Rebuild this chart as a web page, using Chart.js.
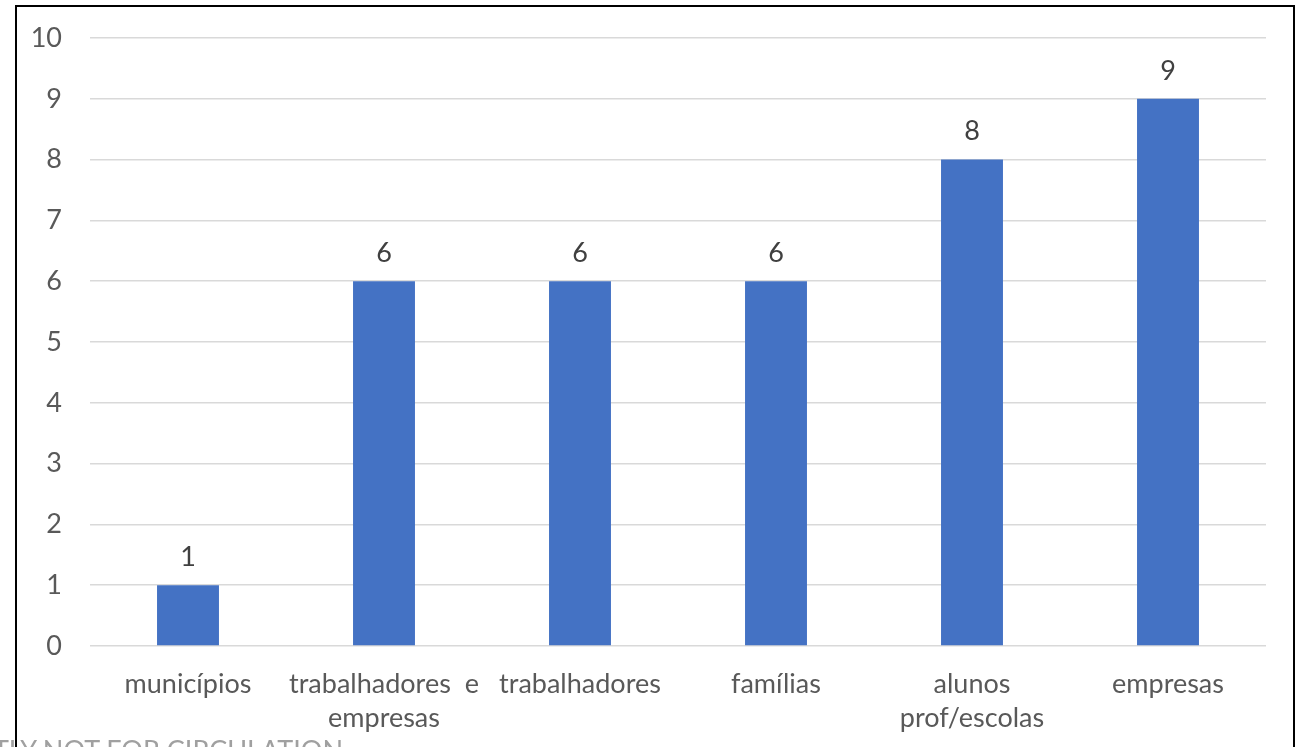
<!DOCTYPE html>
<html>
<head>
<meta charset="utf-8">
<script src="https://cdn.jsdelivr.net/npm/chart.js@4"></script>
<style>
  html, body { margin: 0; padding: 0; background: #fff; overflow: hidden; }
  #wrap { position: relative; width: 1302px; height: 747px; overflow: hidden; }
  #frame { position: absolute; left: 15px; top: 5px; width: 1280px; height: 800px; border: 2px solid #000; box-sizing: border-box; }
  #c { position: absolute; left: 0; top: 0; }
  #foot { position: absolute; right: calc(1302px - 343px); top: 736px; white-space: nowrap; font-family: Lato, sans-serif; font-size: 27px; line-height: 28px; color: #a0a0a0; }
</style>
</head>
<body>
<div id="wrap">
  <div id="frame"></div>
  <canvas id="c" width="1302" height="747"></canvas>
  <div id="foot">STRICTLY NOT FOR CIRCULATION</div>
</div>
<script>
const categories = ["municípios", ["trabalhadores  e", "empresas"], "trabalhadores", "famílias", ["alunos", "prof/escolas"], "empresas"];
const values = [1, 6, 6, 6, 8, 9];
const yTicks = [0, 1, 2, 3, 4, 5, 6, 7, 8, 9, 10];

const FONT = "Lato, 'Open Sans', sans-serif";

const dataLabels = {
  id: 'dataLabels',
  afterDatasetsDraw(chart) {
    const ctx = chart.ctx;
    const meta = chart.getDatasetMeta(0);
    ctx.save();
    ctx.font = "27px " + FONT;
    ctx.fillStyle = "#404040";
    ctx.textAlign = "center";
    ctx.textBaseline = "middle";
    meta.data.forEach((el, i) => {
      ctx.fillText(String(values[i]), el.x, el.y - 28);
    });
    ctx.restore();
  }
};

new Chart(document.getElementById('c'), {
  type: 'bar',
  data: {
    labels: categories,
    datasets: [{
      data: values,
      backgroundColor: '#4472C4',
      borderWidth: 0,
      categoryPercentage: 1,
      barPercentage: 0.316
    }]
  },
  options: {
    responsive: false,
    animation: false,
    devicePixelRatio: 1,
    layout: { padding: { left: 0, top: 38, right: 36, bottom: 0 } },
    plugins: { legend: { display: false }, tooltip: { enabled: false } },
    scales: {
      x: {
        grid: { display: false, drawTicks: false },
        border: { display: false },
        ticks: {
          color: '#595959',
          font: { family: FONT, size: 27, lineHeight: 1.26 },
          padding: 21,
          maxRotation: 0,
          autoSkip: false
        },
        afterFit(s) { s.height = 101; s.paddingLeft = 0; s.paddingRight = 0; }
      },
      y: {
        min: 0, max: 10,
        afterBuildTicks(s) { s.ticks = yTicks.map(v => ({ value: v })); },
        grid: { color: '#D9D9D9', lineWidth: 1.5, drawTicks: false },
        border: { display: false },
        ticks: {
          color: '#595959',
          font: { family: FONT, size: 27 },
          padding: 28
        },
        afterFit(s) { s.width = 90; s.paddingTop = 0; s.paddingBottom = 0; }
      }
    }
  },
  plugins: [dataLabels]
});
</script>
</body>
</html>
